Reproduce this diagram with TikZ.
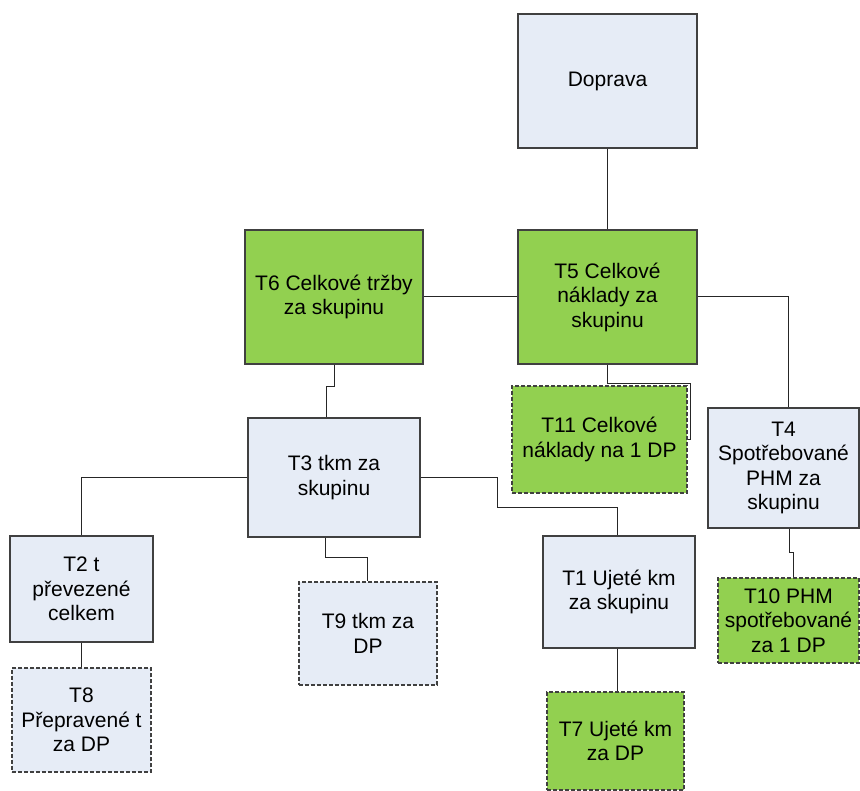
\documentclass[tikz,border=0pt]{standalone}
\usepackage{fontspec}
\setmainfont{Liberation Sans}
\definecolor{boxblue}{HTML}{E6ECF6}
\definecolor{boxgreen}{HTML}{92D050}
\definecolor{edgegray}{HTML}{404040}
\begin{document}
\begin{tikzpicture}[x=1pt,y=-1pt,
  every node/.style={font=\fontsize{21}{24.5}\selectfont, align=center, inner sep=0pt},
  card/.style={draw=edgegray, line width=1.1pt, minimum width=#1},
  bluebox/.style={fill=boxblue},
  greenbox/.style={fill=boxgreen},
  dashbox/.style={dash pattern=on 4pt off 2pt},
  link/.style={draw=black!85, line width=1pt}]
\useasboundingbox (0,0) rectangle (860,791);

% top level
\node[card=179pt, bluebox, minimum height=134pt] (dop) at (607.5,81) {Doprava};
% second level
\node[card=178pt, greenbox, minimum height=134pt] (t6) at (334,297) {T6 Celkové tržby\\za skupinu};
\node[card=179pt, greenbox, minimum height=134pt] (t5) at (607.5,297) {T5 Celkové\\náklady za\\skupinu};
% third level
\node[card=175pt, greenbox, dashbox, minimum height=107pt] (t11) at (599.5,439.5) {T11 Celkové\\náklady na 1 DP};
\node[card=151pt, bluebox, minimum height=120pt] (t4) at (783.5,468) {T4\\Spotřebované\\PHM za\\skupinu};
\node[card=172pt, bluebox, minimum height=119pt] (t3) at (334,477.5) {T3 tkm za\\skupinu};
% fourth level
\node[card=143pt, bluebox, minimum height=106pt] (t2) at (81.5,589) {T2 t\\převezené\\celkem};
\node[card=138pt, bluebox, dashbox, minimum height=103pt] (t9) at (368,633.5) {T9 tkm za\\DP};
\node[card=152pt, bluebox, minimum height=112pt] (t1) at (619,592) {T1 Ujeté km\\za skupinu};
\node[card=141pt, greenbox, dashbox, minimum height=85pt] (t10) at (788.5,620.5) {T10 PHM\\spotřebované\\za 1 DP};
% bottom level
\node[card=139pt, bluebox, dashbox, minimum height=104pt] (t8) at (81.5,720) {T8\\Přepravené t\\za DP};
\node[card=137pt, greenbox, dashbox, minimum height=98pt] (t7) at (615.5,741) {T7 Ujeté km\\za DP};

% connectors
\draw[link] (dop.south) -- (t5.north);
\draw[link] (t6.east) -- (t5.west);
\draw[link] (t5.east) -| ([xshift=4.5pt]t4.north);
\draw[link] (t5.south) -- ++(0,19) -| ([xshift=3pt]t11.east) -- (t11.east);
\draw[link] (t6.south) -- ++(0,22) -| ([xshift=-8pt]t3.north);
\draw[link] (t3.west) -| (t2.north);
\draw[link] (t3.east) -- ++(77,0) |- ([xshift=-2pt,yshift=28pt]t1.north) -- ([xshift=-2pt]t1.north);
\draw[link] ([xshift=-9pt]t3.south) -- ++(0,20) -| ([xshift=-1pt]t9.north);
\draw[link] (t2.south) -- (t8.north);
\draw[link] ([xshift=-2pt]t1.south) -- ([xshift=-2pt]t1.south |- t7.north);
\draw[link] ([xshift=5.5pt]t4.south) -- ++(0,24) -| ([xshift=4.5pt]t10.north);
\end{tikzpicture}
\end{document}
